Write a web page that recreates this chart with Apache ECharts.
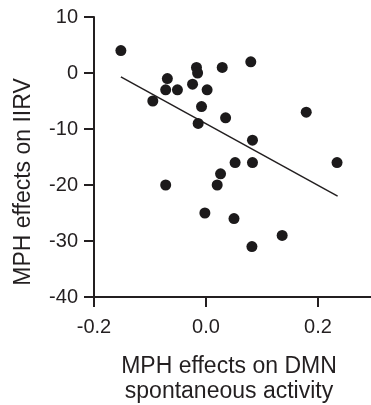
<!DOCTYPE html>
<html>
<head>
<meta charset="utf-8">
<script src="https://cdn.jsdelivr.net/npm/echarts@6/dist/echarts.min.js"></script>
<style>
  html, body { margin: 0; padding: 0; background: #fff; }
  #chart { width: 371px; height: 405px; }
</style>
</head>
<body>
<div id="chart"></div>
<script>
// MPH effects on DMN spontaneous activity (x) vs MPH effects on IIRV (y)
const dmnEffect = [-0.152, -0.069, -0.072, -0.051, -0.095, -0.017, -0.015, -0.024, 0.002, 0.029,
  0.080, -0.008, 0.035, -0.014, 0.179, 0.083, 0.052, 0.083, 0.234, 0.026,
  0.020, -0.072, -0.002, 0.050, 0.136, 0.082];
const iirvEffect = [4, -1, -3, -3, -5, 1, 0, -2, -3, 1,
  2, -6, -8, -9, -7, -12, -16, -16, -16, -18,
  -20, -20, -25, -26, -29, -31];

// fitted line end points
const fitX = [-0.152, 0.235];
const fitY = [-0.7, -22];

const xTicks = [-0.2, 0.0, 0.2];
const yTicks = [-40, -30, -20, -10, 0, 10];

const ink = '#231f20';
const font = 'Liberation Sans, Arial, Helvetica, sans-serif';

const chart = echarts.init(document.getElementById('chart'), null, {renderer: 'canvas'});

const option = {
  animation: false,
  backgroundColor: '#fff',
  grid: {left: 94, top: 17, width: 280, height: 280, outerBoundsMode: 'none'},
  xAxis: {
    type: 'value',
    min: -0.2,
    max: 0.3,
    interval: 0.1,
    name: 'MPH effects on DMN\nspontaneous activity',
    nameLocation: 'middle',
    nameGap: 57,
    nameTextStyle: {color: ink, fontSize: 23, fontFamily: font, lineHeight: 25, padding: [0, 10, 0, 0]},
    axisLine: {onZero: false, lineStyle: {color: ink, width: 2}},
    axisTick: {show: true, length: 10, lineStyle: {color: ink, width: 2}, customValues: xTicks},
    axisLabel: {
      color: ink, fontSize: 20, fontFamily: font, margin: 20,
      customValues: xTicks,
      formatter: v => v.toFixed(1)
    },
    splitLine: {show: false}
  },
  yAxis: {
    type: 'value',
    min: -40,
    max: 10,
    interval: 10,
    axisLine: {show: true, onZero: false, lineStyle: {color: ink, width: 2}},
    axisTick: {show: true, length: 10, lineStyle: {color: ink, width: 2}, customValues: yTicks},
    axisLabel: {color: ink, fontSize: 20, fontFamily: font, margin: 16, customValues: yTicks},
    splitLine: {show: false}
  },
  graphic: [{
    type: 'text',
    x: 24,
    y: 182,
    rotation: Math.PI / 2,
    style: {
      text: 'MPH effects on IIRV',
      fill: ink,
      font: '23px ' + font,
      textAlign: 'center',
      textVerticalAlign: 'middle'
    }
  }],
  series: [
    {
      type: 'line',
      data: fitX.map((x, i) => [x, fitY[i]]),
      showSymbol: false,
      symbol: 'none',
      lineStyle: {color: ink, width: 1.5},
      z: 2
    },
    {
      type: 'scatter',
      data: dmnEffect.map((x, i) => [x, iirvEffect[i]]),
      symbol: 'circle',
      symbolSize: 11,
      itemStyle: {color: '#1c1a1b', opacity: 1},
      z: 3
    }
  ]
};

chart.setOption(option);
</script>
</body>
</html>
